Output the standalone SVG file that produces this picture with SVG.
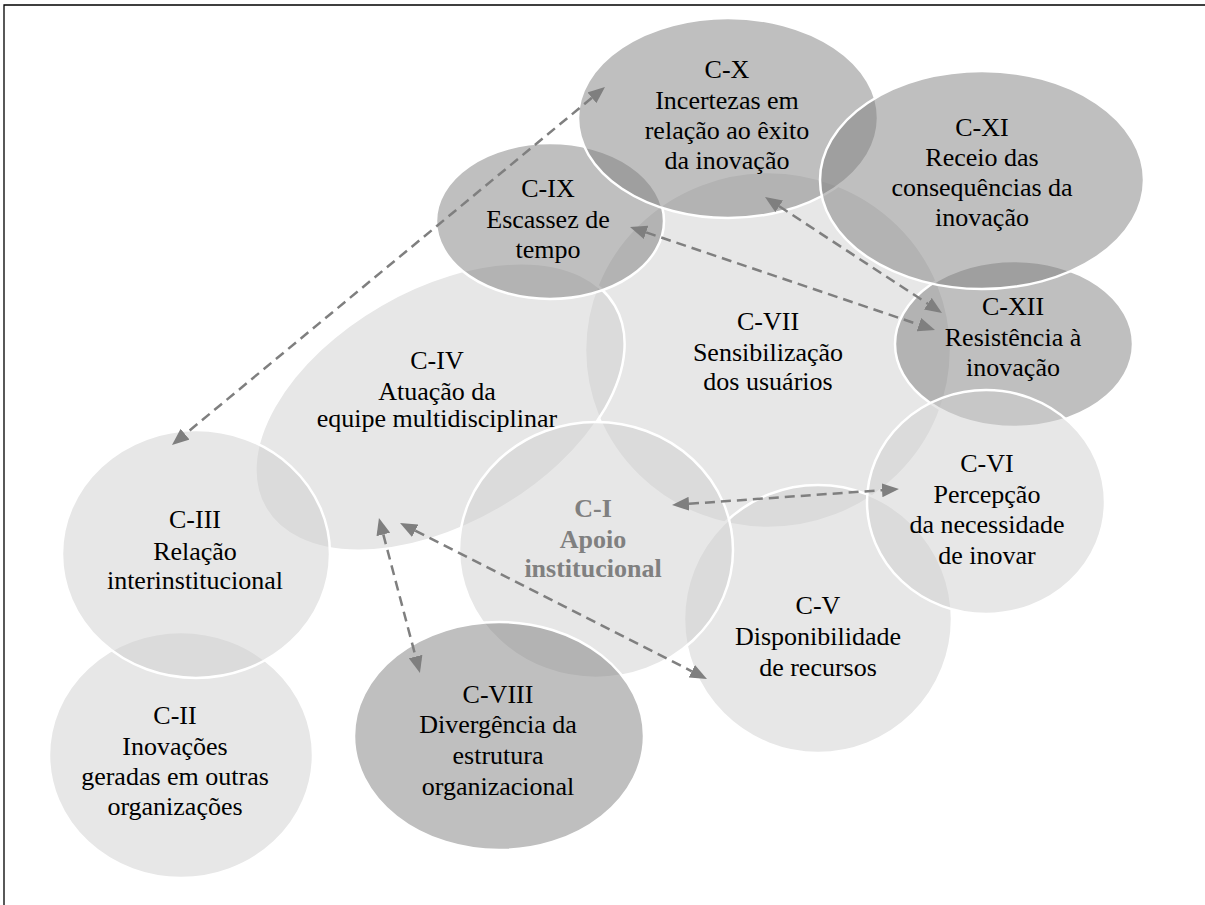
<svg xmlns="http://www.w3.org/2000/svg" width="1205" height="905" viewBox="0 0 1205 905">
<style>
.frame{fill:none;stroke:#000;stroke-width:1.3}
.n ellipse{stroke:#fff;stroke-width:2.5}
.light ellipse{fill:#d0d0d0;fill-opacity:.5}
.dark ellipse{fill:#7f7f7f;fill-opacity:.5}
.n text{fill:#000;text-anchor:middle}
.n text.hl{fill:#808080;font-weight:bold}
.c line{stroke:#7f7f7f;stroke-width:2.5;stroke-dasharray:10 6;marker-start:url(#ah);marker-end:url(#ah)}
</style>
<defs>
<marker id="ah" viewBox="0 -7 17 14" refX="0" refY="0" markerWidth="17" markerHeight="14" markerUnits="userSpaceOnUse" orient="auto-start-reverse">
<path d="M0,-7 L17,0 L0,7 z" fill="#7f7f7f"/>
</marker>
</defs>
<rect width="1205" height="905" fill="#fff"/>
<path class="frame" d="M4,905 V5 H1205"/>

<g font-family="Liberation Serif, serif" font-size="26">
<g id="c2" class="n light"><ellipse cx="181" cy="755" rx="132" ry="123"/>
<text x="175" y="724">C-II</text><text x="175" y="755">Inovações</text><text x="175" y="785">geradas em outras</text><text x="175" y="815">organizações</text></g>

<g id="c7" class="n light"><ellipse cx="768" cy="350" rx="183" ry="178"/>
<text x="768" y="330">C-VII</text><text x="768" y="361">Sensibilização</text><text x="768" y="390">dos usuários</text></g>

<g id="c4" class="n light"><ellipse cx="440" cy="407" rx="202" ry="118" transform="rotate(-30 440 407)"/>
<text x="437" y="369">C-IV</text><text x="437" y="400">Atuação da</text><text x="437" y="427">equipe multidisciplinar</text></g>

<g id="c3" class="n light"><ellipse cx="196" cy="554" rx="134" ry="124"/>
<text x="195" y="528">C-III</text><text x="195" y="560">Relação</text><text x="195" y="589">interinstitucional</text></g>

<g id="c9" class="n dark"><ellipse cx="550" cy="221" rx="114" ry="78"/>
<text x="548" y="197">C-IX</text><text x="548" y="228">Escassez de</text><text x="548" y="258">tempo</text></g>

<g id="c10" class="n dark"><ellipse cx="728" cy="118" rx="150" ry="100"/>
<text x="727" y="78">C-X</text><text x="727" y="109">Incertezas em</text><text x="727" y="139">relação ao êxito</text><text x="727" y="169">da inovação</text></g>

<g id="c12" class="n dark"><ellipse cx="1014" cy="344" rx="119" ry="83"/>
<text x="1013" y="315">C-XII</text><text x="1013" y="346">Resistência à</text><text x="1013" y="376">inovação</text></g>

<g id="c11" class="n dark"><ellipse cx="982" cy="180" rx="162" ry="109"/>
<text x="982" y="136">C-XI</text><text x="982" y="166">Receio das</text><text x="982" y="196">consequências da</text><text x="982" y="226">inovação</text></g>

<g id="c5" class="n light"><ellipse cx="818" cy="619" rx="134" ry="134"/>
<text x="818" y="614">C-V</text><text x="818" y="645">Disponibilidade</text><text x="818" y="676">de recursos</text></g>

<g id="c6" class="n light"><ellipse cx="986" cy="502" rx="119" ry="112"/>
<text x="987" y="472">C-VI</text><text x="987" y="503">Percepção</text><text x="987" y="533">da necessidade</text><text x="987" y="564">de inovar</text></g>

<g id="c1" class="n light"><ellipse cx="596" cy="550" rx="137" ry="128"/>
<text class="hl" x="593" y="517">C-I</text><text class="hl" x="593" y="548">Apoio</text><text class="hl" x="593" y="577">institucional</text></g>

<g id="c8" class="n dark"><ellipse cx="499" cy="736" rx="145" ry="114"/>
<text x="498" y="703">C-VIII</text><text x="498" y="733">Divergência da</text><text x="498" y="764">estrutura</text><text x="498" y="795">organizacional</text></g>
</g>

<g id="connectors" class="c">
<line x1="591.9" y1="97.8" x2="185.1" y2="434.2"/>
<line x1="646.1" y1="232.4" x2="918.9" y2="324.6"/>
<line x1="779.2" y1="206.3" x2="927.8" y2="303.7"/>
<line x1="689" y1="503.8" x2="882" y2="490.2"/>
<line x1="383.3" y1="534.4" x2="415.6" y2="656.6"/>
<line x1="415.2" y1="530.7" x2="691.8" y2="671.3"/>
</g>
</svg>
